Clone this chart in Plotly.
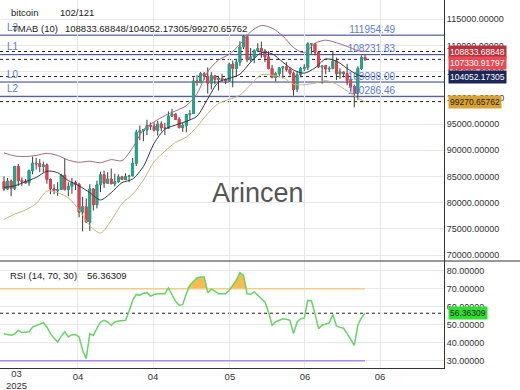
import plotly.graph_objects as go
from plotly.subplots import make_subplots

# ---------------- data (prices in thousands) ----------------
open_k = [84.0, 82.6, 84.1, 82.7, 86.9, 84.2, 84.0, 83.8, 86.1, 87.5,
          87.4, 86.9, 87.2, 84.4, 82.6, 82.3, 82.5, 85.2, 82.5, 83.1,
          83.8, 83.5, 78.2, 79.2, 76.3, 82.6, 79.6, 83.4, 85.3, 83.7,
          84.5, 83.6, 84.0, 84.9, 84.4, 85.0, 85.1, 87.5, 93.4, 93.7,
          93.9, 94.7, 94.6, 93.8, 95.0, 94.3, 94.2, 96.5, 96.9, 95.9,
          94.3, 94.7, 96.8, 97.0, 103.2, 102.9, 104.6, 104.1, 102.8, 104.2,
          103.5, 103.7, 103.5, 103.2, 106.4, 105.6, 106.8, 109.7, 111.7, 107.3,
          107.8, 109.0, 109.4, 108.9, 107.8, 105.6, 103.9, 104.6, 105.7, 105.9,
          105.4, 104.7, 101.6, 104.4, 105.6, 105.8, 110.3, 110.3, 108.7, 105.9,
          106.1, 105.5, 105.6, 107.0, 104.6, 104.9, 104.6, 103.3, 102.1, 100.9,
          105.6, 107.7]
high_k = [85.0, 84.7, 84.4, 87.0, 87.4, 84.8, 84.5, 86.3, 88.8, 88.5,
          88.3, 87.8, 87.5, 84.6, 83.5, 83.9, 85.5, 88.5, 83.9, 84.7,
          84.2, 83.8, 81.1, 80.8, 83.5, 82.7, 84.2, 85.9, 86.1, 85.8,
          86.5, 85.5, 85.4, 85.1, 85.6, 85.3, 88.5, 93.9, 94.7, 94.0,
          95.8, 95.3, 95.3, 95.6, 95.5, 95.2, 97.4, 97.9, 97.0, 96.3,
          95.2, 96.9, 97.7, 103.9, 104.3, 104.9, 104.9, 105.8, 104.9, 104.3,
          104.2, 104.6, 103.7, 106.7, 107.1, 107.3, 110.8, 111.95, 111.8, 109.5,
          109.3, 110.4, 110.7, 109.3, 108.9, 106.3, 104.9, 105.9, 105.9, 106.8,
          105.9, 105.0, 105.0, 105.9, 106.4, 110.6, 110.4, 110.4, 108.8, 106.2,
          106.2, 106.0, 108.9, 107.7, 105.6, 105.0, 106.5, 103.9, 102.5, 106.0,
          108.1, 108.2]
low_k = [82.2, 82.5, 81.2, 82.4, 83.2, 83.2, 83.6, 83.2, 85.4, 86.3,
         85.8, 85.8, 83.6, 81.6, 81.6, 81.3, 82.4, 82.3, 81.2, 81.7,
         82.4, 77.2, 74.5, 76.2, 74.6, 78.5, 78.9, 82.0, 82.8, 83.7,
         83.6, 83.1, 83.8, 84.3, 84.4, 83.9, 85.1, 87.0, 91.9, 91.7,
         92.9, 93.9, 93.6, 92.8, 93.6, 92.9, 94.1, 96.4, 95.8, 94.2,
         93.5, 93.4, 95.8, 97.0, 102.3, 102.8, 103.4, 100.8, 101.6, 102.6,
         101.4, 103.1, 102.6, 103.0, 102.0, 104.2, 106.1, 109.3, 106.8, 106.9,
         106.6, 108.7, 107.6, 106.8, 105.4, 103.7, 103.1, 103.9, 103.7, 105.0,
         104.2, 100.4, 101.1, 103.9, 105.1, 105.3, 108.4, 108.1, 105.7, 102.7,
         104.5, 104.9, 105.4, 103.4, 103.6, 103.9, 102.4, 101.2, 98.2, 99.6,
         105.3, 107.0]
close_k = [82.6, 84.1, 82.7, 86.9, 84.2, 84.0, 83.8, 86.1, 87.5, 87.4,
           86.9, 87.2, 84.4, 82.6, 82.3, 82.5, 85.2, 82.5, 83.1, 83.8,
           83.5, 78.2, 79.2, 76.3, 82.6, 79.6, 83.4, 85.3, 83.7, 84.5,
           83.6, 84.0, 84.9, 84.4, 85.0, 85.1, 87.5, 93.4, 93.7, 93.9,
           94.7, 94.6, 93.8, 95.0, 94.3, 94.2, 96.5, 96.9, 95.9, 94.3,
           94.7, 96.8, 97.0, 103.2, 102.9, 104.6, 104.1, 102.8, 104.2, 103.5,
           103.7, 103.5, 103.2, 106.4, 105.6, 106.8, 109.7, 111.7, 107.3, 107.8,
           109.0, 109.4, 108.9, 107.8, 105.6, 103.9, 104.6, 105.7, 105.9, 105.4,
           104.7, 101.6, 104.4, 105.6, 105.8, 110.3, 110.3, 108.7, 105.9, 106.1,
           105.5, 105.6, 107.0, 104.6, 104.9, 104.6, 103.3, 102.1, 100.9, 105.6,
           107.7, 107.33091797]

band_idx = list(range(0, 100, 3)) + [101]
tma_upper_k = [89.5, 88.9, 88.8, 89.0, 89.4, 89.0, 88.1, 87.7, 87.9, 87.6,
               88.2, 88.0, 90.5, 93.9, 95.4, 96.6, 97.5, 98.5, 100.8, 105.0,
               107.2, 108.3, 110.2, 112.6, 113.8, 113.3, 111.8, 109.6, 108.6, 110.4,
               111.0, 110.5, 109.8, 109.0, 108.83368848]
tma_mid_k = [82.9, 83.2, 84.0, 84.8, 86.0, 85.7, 84.2, 83.2, 81.9, 80.5,
             81.9, 83.8, 84.5, 86.9, 91.3, 94.0, 94.8, 95.5, 96.5, 99.8,
             103.0, 103.7, 104.5, 106.8, 108.6, 108.4, 106.8, 105.3, 104.7, 105.7,
             107.4, 107.0, 105.6, 104.35, 104.05217305]
tma_lower_k = [76.8, 77.8, 78.6, 79.8, 82.2, 81.9, 80.9, 78.6, 75.6, 74.2,
               76.6, 79.8, 81.6, 84.3, 87.8, 89.8, 91.5, 92.5, 94.5, 97.0,
               98.9, 99.7, 100.5, 102.5, 104.4, 104.3, 103.9, 102.6, 102.5, 102.8,
               103.3, 102.6, 101.3, 99.9, 99.27065762]

rsi = [45.0, 44.5, 44.1, 44.8, 46.9, 45.6, 45.6, 46.0, 48.7, 49.6,
       50.2, 51.1, 48.7, 45.0, 42.5, 40.4, 43.5, 46.0, 43.2, 44.4,
       44.5, 43.2, 35.8, 31.1, 45.0, 44.0, 48.0, 51.5, 52.4, 51.5,
       49.7, 51.5, 52.0, 52.0, 52.4, 57.5, 63.5, 66.8, 66.3, 67.5,
       67.8, 65.9, 66.8, 67.2, 67.0, 67.2, 70.4, 66.3, 63.0, 60.8,
       61.1, 67.2, 72.0, 74.0, 76.0, 76.5, 76.5, 67.8, 69.7, 68.6,
       67.2, 67.2, 67.2, 69.0, 71.9, 74.7, 78.9, 77.4, 67.2, 66.9,
       68.2, 66.3, 64.5, 62.6, 57.1, 49.7, 51.5, 52.4, 53.3, 53.0,
       52.4, 45.0, 51.5, 53.3, 53.6, 63.5, 63.3, 56.1, 47.8, 49.7,
       50.3, 51.0, 55.6, 49.3, 48.5, 48.0, 45.0, 41.8, 38.5, 49.7,
       53.7, 56.36309]

level_names = ["L3", "L1", "L0", "L2"]
level_values = [111954.49, 108231.83, 103008.00, 100286.46]
tma_last = [108833.68848, 104052.17305, 99270.65762]
last_close = 107330.91797
rsi_last = 56.36309
rsi_bounds = [70, 30]
x_tickvals = [20.7, 41.7, 63.2, 84.2, 105.2]
x_ticktext = ["04", "04", "05", "06", "06"]
first_label = "03<br>2025"
price_ticks = list(range(70000, 115001, 5000))
rsi_ticks = [30, 40, 50, 60, 70, 80]
symbol, counter = "bitcoin", "102/121"

# ---------------- derived ----------------
idx = list(range(len(close_k)))
o = [v * 1000 for v in open_k]
h = [v * 1000 for v in high_k]
l = [v * 1000 for v in low_k]
c = [v * 1000 for v in close_k]
body_hi = [max(a, b) for a, b in zip(o, c)]
body_lo = [min(a, b) for a, b in zip(o, c)]

UP, DOWN, WICK = "#1fa98a", "#e8414f", "#3a3a3a"
LEVEL_C, LEVEL_TXT = "#2c3a8e", "#5b7bcc"
FONT = "Liberation Sans, Arial, sans-serif"

W, H = 520, 390
ML, MR, MT, MB = 0, 76, 0, 22
PW, PH = W - ML - MR, H - MT - MB
split = 261  # px where RSI pane starts


def pxx(x):
    return x / PW


def pxy(y):
    return 1 - y / PH


x_range = [-1.12, 123.1]
main_dom = [pxy(split), 1]
rsi_dom = [0, pxy(split)]

fig = make_subplots(rows=2, cols=1, shared_xaxes=True, vertical_spacing=0)

# level value labels (under the candles)
fig.add_trace(go.Scatter(
    x=[109.4] * len(level_values), y=level_values,
    mode="text", text=[f"{v:.2f}" for v in level_values],
    textposition="top left",
    textfont=dict(family=FONT, size=10, color=LEVEL_TXT),
    hoverinfo="skip"), row=1, col=1)

# TMA bands
for vals, col in [(tma_upper_k, "#a5697a"), (tma_mid_k, "#2e3848"), (tma_lower_k, "#c9b57a")]:
    fig.add_trace(go.Scatter(
        x=band_idx, y=[v * 1000 for v in vals], mode="lines",
        line=dict(color=col, width=1, shape="spline", smoothing=0.8),
        hoverinfo="skip"), row=1, col=1)

# wicks
fig.add_trace(go.Candlestick(
    x=idx, open=o, high=h, low=l, close=c,
    increasing=dict(line=dict(color=WICK, width=1), fillcolor=WICK),
    decreasing=dict(line=dict(color=WICK, width=1), fillcolor=WICK),
    whiskerwidth=0, hoverinfo="skip"), row=1, col=1)
# bodies
fig.add_trace(go.Candlestick(
    x=idx, open=o, high=body_hi, low=body_lo, close=c,
    increasing=dict(line=dict(color=UP, width=1), fillcolor=UP),
    decreasing=dict(line=dict(color=DOWN, width=1), fillcolor=DOWN),
    whiskerwidth=0, hoverinfo="skip"), row=1, col=1)

# RSI overbought fill
ob = rsi_bounds[0]
fig.add_trace(go.Scatter(x=idx, y=[ob] * len(idx), mode="lines",
                         line=dict(width=0, color="rgba(0,0,0,0)"), hoverinfo="skip"), row=2, col=1)
fig.add_trace(go.Scatter(x=idx, y=[max(v, ob) for v in rsi], mode="lines",
                         line=dict(width=0, color="rgba(0,0,0,0)"), fill="tonexty",
                         fillcolor="#f8bd4e", hoverinfo="skip"), row=2, col=1)
# RSI bound lines
for val, col in zip(rsi_bounds, ["#f6cc85", "#b884e8"]):
    fig.add_trace(go.Scatter(x=[x_range[0], idx[-1]], y=[val, val], mode="lines",
                             line=dict(color=col, width=1.5), hoverinfo="skip"), row=2, col=1)
fig.add_trace(go.Scatter(x=idx, y=rsi, mode="lines",
                         line=dict(color="#66d466", width=1.5), hoverinfo="skip"), row=2, col=1)

shapes = []
for v in level_values:
    shapes.append(dict(type="line", xref="paper", yref="y", x0=0, x1=1, y0=v, y1=v,
                       line=dict(color=LEVEL_C, width=1), layer="below"))
for v in tma_last + [last_close]:
    shapes.append(dict(type="line", xref="paper", yref="y", x0=0, x1=1, y0=v, y1=v,
                       line=dict(color="#222", width=1, dash="3px,3px"), layer="below"))
shapes.append(dict(type="line", xref="paper", yref="y2", x0=0, x1=1, y0=rsi_last, y1=rsi_last,
                   line=dict(color="#222", width=1, dash="3px,3px"), layer="below"))
shapes.append(dict(type="line", xref="paper", yref="paper", x0=0, x1=W / PW,
                   y0=pxy(split), y1=pxy(split), line=dict(color="#333", width=1)))

ann = []


def txt(x, y, s, size=9.5, color="#222", xanchor="left", **kw):
    ann.append(dict(x=pxx(x), y=pxy(y), xref="paper", yref="paper", text=s, showarrow=False,
                    xanchor=xanchor, yanchor="middle",
                    font=dict(family=FONT, size=size, color=color), **kw))


for name, v in zip(level_names, level_values):
    ann.append(dict(x=pxx(5), y=v, xref="paper", yref="y", text=name, showarrow=False,
                    xanchor="left", yanchor="middle", yshift=8,
                    font=dict(family=FONT, size=10, color=LEVEL_TXT)))
txt(9, 12.5, symbol)
txt(58, 12.5, counter)
txt(10, 29, "TMAB (10)")
txt(63, 29, "/".join(f"{v:.5f}" for v in tma_last))
txt(8, 275, "RSI (14, 70, 30)")
txt(85, 275, f"{rsi_last:.5f}")
txt(258, 193, "Arincen", size=27, color="#555", xanchor="center")
txt(4, 379.5, first_label, size=9.5, color="#333")

box_specs = [(tma_last[0], "#b8313b", "white", 0),
             (last_close, "#ea4a55", "white", -4),
             (tma_last[1], "#1c2658", "white", 0),
             (tma_last[2], "#d9a332", "#222", 0)]
for v, bg, fc, ys in box_specs:
    ann.append(dict(x=1, y=v, xref="paper", yref="y", text=f"{v:.5f}", showarrow=False,
                    xanchor="left", yanchor="middle", xshift=4, yshift=ys, bgcolor=bg, borderpad=1,
                    font=dict(family=FONT, size=8.5, color=fc)))
ann.append(dict(x=1, y=rsi_last, xref="paper", yref="y2", text=f"{rsi_last:.5f}", showarrow=False,
                xanchor="left", yanchor="middle", xshift=4, bgcolor="#2ee02e", borderpad=1,
                font=dict(family=FONT, size=8.5, color="#222")))

grid = "#e8e8e8"
fig.update_layout(
    width=W, height=H, margin=dict(l=ML, r=MR, t=MT, b=MB),
    paper_bgcolor="white", plot_bgcolor="white", showlegend=False,
    font=dict(family=FONT, size=9, color="#333"),
    shapes=shapes, annotations=ann,
    xaxis=dict(range=x_range, tickvals=x_tickvals, showticklabels=False, showgrid=True,
               gridcolor=grid, zeroline=False, ticks="", rangeslider=dict(visible=False)),
    xaxis2=dict(range=x_range, tickvals=x_tickvals, ticktext=x_ticktext, showgrid=True,
                gridcolor=grid, zeroline=False, ticks="", showline=True, linecolor="#333",
                tickfont=dict(size=9.5, color="#333"), rangeslider=dict(visible=False)),
    yaxis=dict(domain=main_dom, side="right", range=[68855, 118664], tickvals=price_ticks,
               tickformat=".5f", showgrid=True, gridcolor=grid, zeroline=False, ticks="",
               showline=True, linecolor="#333",
               tickfont=dict(size=9, color="#333")),
    yaxis2=dict(domain=rsi_dom, side="right", range=[25.9, 85.4], tickvals=rsi_ticks,
                tickformat=".5f", showgrid=True, gridcolor=grid, zeroline=False, ticks="",
                showline=True, linecolor="#333",
                tickfont=dict(size=9, color="#333")),
)

fig.write_html("out.html", config={"displayModeBar": False},
               post_script="document.body.style.margin='0';")
